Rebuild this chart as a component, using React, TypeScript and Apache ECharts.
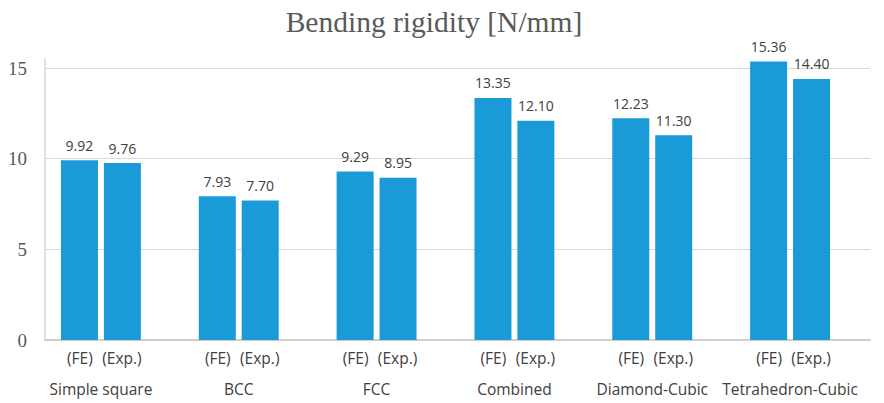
import React, { useEffect, useRef } from "react";
import * as echarts from "echarts";

const titleText = "Bending rigidity [N/mm]";
const categories = ["Simple square", "BCC", "FCC", "Combined", "Diamond-Cubic", "Tetrahedron-Cubic"];
const subLabels = ["(FE)", "(Exp.)"];
const feValues = [9.92, 7.93, 9.29, 13.35, 12.23, 15.36];
const expValues = [9.76, 7.7, 8.95, 12.1, 11.3, 14.4];
const yMin = 0;
const yMax = 15.5;
const yInterval = 5;

export default function App() {
  const ref = useRef<HTMLDivElement>(null);
  useEffect(() => {
    if (!ref.current) return;
    const chart = echarts.init(ref.current, undefined, { renderer: "svg" });
    const barColor = "#1a9bd7";
    const labelCommon = {
      show: true,
      position: "top",
      distance: 8,
      color: "#404040",
      fontFamily: "Open Sans",
      fontSize: 14,
      formatter: (p: any) => Number(p.value).toFixed(2),
    };
    const richBase = { lineHeight: 31, fontSize: 15.5, fontFamily: "Open Sans", color: "#404040" };
    chart.setOption({
      animation: false,
      title: {
        text: titleText,
        left: 434,
        textAlign: "center",
        top: 7,
        padding: 0,
        textStyle: {
          fontFamily: "Liberation Serif",
          fontSize: 29.5,
          fontWeight: "normal",
          color: "#595959",
        },
      },
      grid: [
        { left: 45, right: 14, top: 59, bottom: 63 },
        { left: 32, right: 25, top: 59, bottom: 63 },
      ],
      xAxis: [
        {
          gridIndex: 0,
          type: "category",
          data: [""],
          axisLine: { show: true, lineStyle: { color: "#bfbfbf", width: 1.5 } },
          axisTick: { show: false },
          axisLabel: { show: false },
          splitLine: { show: false },
        },
        {
          gridIndex: 1,
          type: "category",
          data: categories,
          axisLine: { show: false },
          axisTick: { show: false },
          axisLabel: {
            interval: 0,
            margin: 2,
            color: "#404040",
            fontFamily: "Open Sans",
            fontSize: 15.5,
            formatter: (v: string) => `{a|${subLabels[0]}}{b|${subLabels[1]}}\n{c|${v}}`,
            rich: {
              a: { ...richBase, width: 42, align: "center" },
              b: { ...richBase, width: 42, align: "center" },
              c: { ...richBase, align: "center" },
            },
          },
        },
      ],
      yAxis: [
        {
          gridIndex: 0,
          type: "value",
          min: yMin,
          max: yMax,
          interval: yInterval,
          axisLine: { show: true, lineStyle: { color: "#d9d9d9", width: 1.5 } },
          axisTick: { show: false },
          axisLabel: {
            margin: 18,
            showMaxLabel: false,
            color: "#595959",
            fontFamily: "Liberation Serif",
            fontSize: 19,
          },
          splitLine: { show: true, showMaxLine: false, showMinLine: false, lineStyle: { color: "#d9d9d9", width: 1.2 } },
        },
        {
          gridIndex: 1,
          type: "value",
          min: yMin,
          max: yMax,
          interval: yInterval,
          show: false,
          splitLine: { show: false },
        },
      ],
      series: [
        {
          name: subLabels[0],
          type: "bar",
          xAxisIndex: 1,
          yAxisIndex: 1,
          data: feValues,
          barWidth: 37,
          barGap: "16%",
          itemStyle: { color: barColor },
          label: labelCommon,
        },
        {
          name: subLabels[1],
          type: "bar",
          xAxisIndex: 1,
          yAxisIndex: 1,
          data: expValues,
          barWidth: 37,
          barGap: "16%",
          itemStyle: { color: barColor },
          label: labelCommon,
        },
      ],
    });
    return () => chart.dispose();
  }, []);
  return (
    <div
      ref={ref}
      style={{ position: "fixed", left: 0, top: 0, width: 884, height: 403, background: "#fff" }}
    />
  );
}
